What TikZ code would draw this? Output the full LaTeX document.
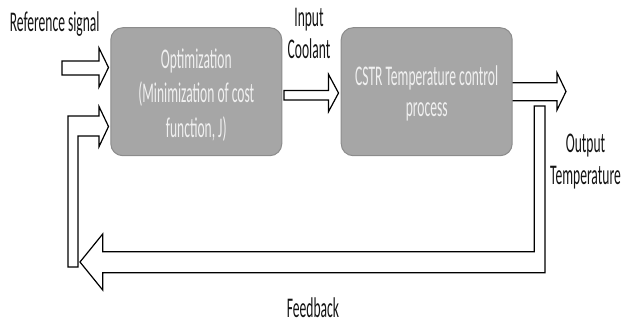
\documentclass[tikz,border=0pt]{standalone}
\usepackage{fontspec}
\setmainfont{Carlito}[FakeStretch=0.475]
\definecolor{boxfill}{RGB}{166,166,166}
\definecolor{boxline}{RGB}{140,140,140}
\definecolor{boxtext}{RGB}{240,240,240}
\definecolor{labeltext}{RGB}{20,20,20}
\tikzset{
  blockbox/.style={draw=boxline, line width=1pt, fill=boxfill, rounded corners=12pt,
    minimum width=171pt, minimum height=128pt, inner sep=0pt, text=boxtext, align=center},
  blockarrow/.style={draw=black, line width=1.2pt, fill=white, line join=miter},
  lbl/.style={inner sep=0pt, text=labeltext, align=center,
    font=\fontsize{28.5}{31.6}\selectfont},
}
\begin{document}
\begin{tikzpicture}[x=1pt,y=-1pt]
\useasboundingbox (0,0) rectangle (624,322);
% block arrows
\draw[blockarrow] (62,61) -- (99,61) -- (99,48) -- (108.5,67.5) -- (99,87) -- (99,75) -- (62,75) -- cycle;
\draw[blockarrow] (78,267) -- (78,136) -- (99,136) -- (99,146.7) -- (108.5,126.5) -- (99,106.5) -- (99,116) -- (68,116) -- (68,267) -- cycle;
\draw[blockarrow] (284,90.5) -- (328.5,90.5) -- (328.5,74.3) -- (338.5,93) -- (328.5,111.7) -- (328.5,100) -- (284,100) -- cycle;
\draw[blockarrow] (505,82.7) -- (557,82.7) -- (557,72.7) -- (566,91.5) -- (557,110) -- (557,100.7) -- (505,100.7) -- cycle;
\draw[blockarrow] (545,106) -- (545,272.7) -- (102.7,272.7) -- (102.7,290) -- (80,262) -- (102.7,234) -- (102.7,251.7) -- (534.3,251.7) -- (534.3,106) -- cycle;
% boxes
\node[blockbox, font=\fontsize{28.5}{34.7}\selectfont] (opt) at (196.3,91.7)
  {\rule{0pt}{26pt}Optimization\\(Minimization of cost\\function, J)};
\node[blockbox, font=\fontsize{28.5}{31}\selectfont] (cstr) at (426.7,91.7)
  {\rule{0pt}{24pt}CSTR Temperature control\\process};
% labels
\node[lbl, anchor=base] (ref) at (54.7,31.7) {Reference signal};
\node[lbl, anchor=north] (coolant) at (309,8.3) {Input\\Coolant};
\node[lbl, anchor=north] (outT) at (585.5,134) {Output\\Temperature};
\node[lbl, anchor=base] (fb) at (313,317.5) {Feedback};
\end{tikzpicture}
\end{document}
